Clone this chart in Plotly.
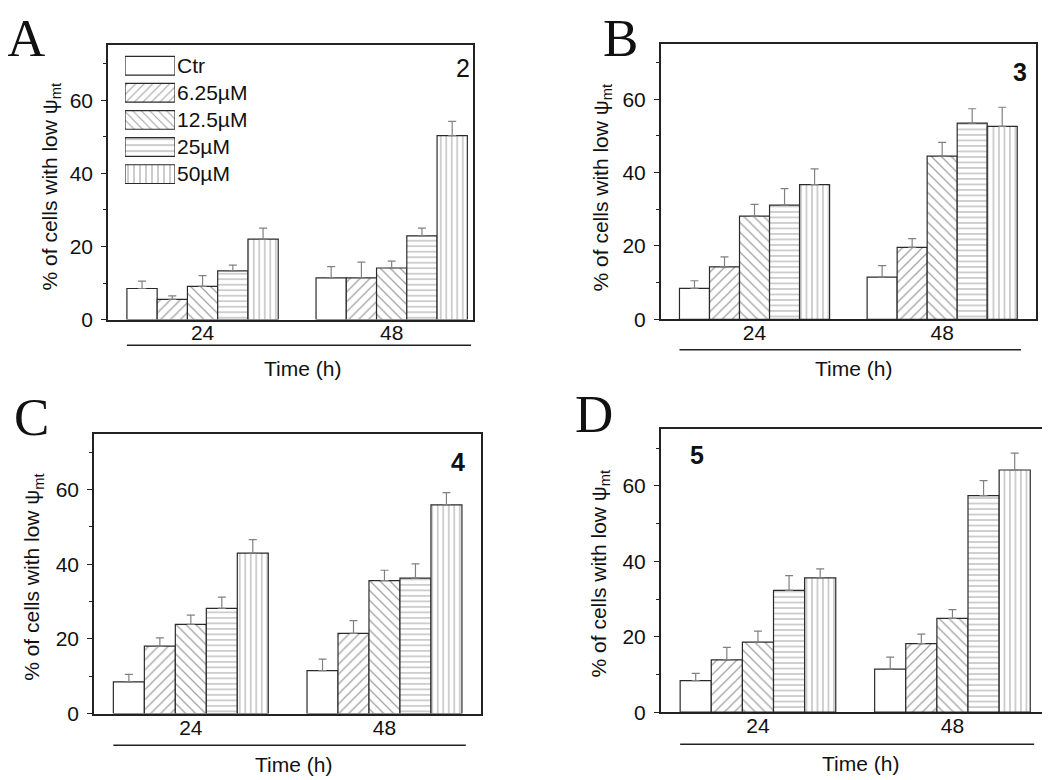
import plotly.graph_objects as go

W, H = 1050, 780

# ---------------- data ----------------
series = ["Ctr", "6.25µM", "12.5µM", "25µM", "50µM"]
patterns = ["", "/", "\\", "-", "|"]
times = ["24", "48"]

A_mean_24 = [8.5, 5.5, 9.1, 13.3, 22.0]
A_err_24 = [2.0, 1.0, 2.9, 1.6, 3.0]
A_mean_48 = [11.4, 11.4, 14.1, 22.9, 50.3]
A_err_48 = [3.1, 4.3, 1.9, 2.1, 3.9]

B_mean_24 = [8.4, 14.3, 28.1, 31.1, 36.7]
B_err_24 = [2.1, 2.7, 3.2, 4.5, 4.3]
B_mean_48 = [11.5, 19.6, 44.5, 53.5, 52.6]
B_err_48 = [3.1, 2.4, 3.7, 3.9, 5.2]

C_mean_24 = [8.5, 18.1, 23.9, 28.2, 43.0]
C_err_24 = [2.0, 2.2, 2.5, 3.0, 3.6]
C_mean_48 = [11.5, 21.5, 35.6, 36.3, 55.9]
C_err_48 = [3.1, 3.4, 2.8, 3.8, 3.3]

D_mean_24 = [8.4, 13.9, 18.6, 32.3, 35.6]
D_err_24 = [1.9, 3.3, 2.9, 3.9, 2.4]
D_mean_48 = [11.4, 18.2, 24.9, 57.4, 64.2]
D_err_48 = [3.2, 2.5, 2.3, 4.0, 4.5]

compound_labels = ["2", "3", "4", "5"]
panel_letters = ["A", "B", "C", "D"]

# ---------------- layout helpers ----------------
SANS = "Liberation Sans, Arial, sans-serif"
SERIF = "Liberation Serif, Times New Roman, serif"
INK = "#222222"


def px_x(x):
    return x / W


def px_y(y):
    return 1 - y / H


panels = [
    dict(mean24=A_mean_24, err24=A_err_24, mean48=A_mean_48, err48=A_err_48,
         dom_x=(100, 465), dom_y=(38, 316), xr=[-0.5, 1.43], line_y=342,
         time_xy=(294, 366), ytitle_xy=(43, 181), letter_xy=(18, 0), letter_anchor="top",
         num_xy=(455, 61), num_bold=False),
    dict(mean24=B_mean_24, err24=B_err_24, mean48=B_mean_48, err48=B_err_48,
         dom_x=(652.7, 1028), dom_y=(36.7, 315.7), xr=[-0.5, 1.5], line_y=346.7,
         time_xy=(845, 366), ytitle_xy=(594, 182), letter_xy=(612, 0), letter_anchor="top",
         num_xy=(1011.5, 64.5), num_bold=True),
    dict(mean24=C_mean_24, err24=C_err_24, mean48=C_mean_48, err48=C_err_48,
         dom_x=(86, 473.3), dom_y=(431.7, 715.7), xr=[-0.5, 1.5], line_y=747.7,
         time_xy=(285, 767), ytitle_xy=(25, 577), letter_xy=(23, 415), letter_anchor="middle",
         num_xy=(450, 460), num_bold=True),
    dict(mean24=D_mean_24, err24=D_err_24, mean48=D_mean_48, err48=D_err_48,
         dom_x=(652.7, 1041.7), dom_y=(427.3, 714.3), xr=[-0.5, 1.5], line_y=746.7,
         time_xy=(852, 766), ytitle_xy=(592, 573.5), letter_xy=(586, 412), letter_anchor="middle",
         num_xy=(689, 453), num_bold=True),
]

fig = go.Figure()
annotations = []
shapes = []
group_x = [0, 1]
bargap = 0.2
half_group = (1 - bargap) / 2

for p_i, p in enumerate(panels):
    k = "" if p_i == 0 else str(p_i + 1)
    for s_i, name in enumerate(series):
        yv = [p["mean24"][s_i], p["mean48"][s_i]]
        ev = [p["err24"][s_i], p["err48"][s_i]]
        fig.add_trace(go.Bar(
            x=group_x, y=yv, name=name, showlegend=False,
            xaxis="x" + k, yaxis="y" + k,
            marker=dict(color="white",
                        line=dict(color="#2a2a2a", width=1.2),
                        pattern=dict(shape=patterns[s_i], fgcolor="#444444",
                                     bgcolor="white",
                                     size=7 if s_i in (1, 2) else 5.5,
                                     solidity=0.18)),
            error_y=dict(type="data", array=ev, arrayminus=[0, 0],
                         symmetric=False, color="#808080", thickness=1.2,
                         width=4),
        ))
    xa = dict(domain=[px_x(p["dom_x"][0]), px_x(p["dom_x"][1])],
              range=p["xr"], anchor="y" + k,
              tickvals=group_x, ticktext=times,
              ticks="", ticklabelstandoff=-6,
              showline=True, mirror=True, linecolor=INK, linewidth=1.5,
              showgrid=False, zeroline=False,
              tickfont=dict(family=SANS, size=21, color="#111"))
    ya = dict(domain=[px_y(p["dom_y"][1]), px_y(p["dom_y"][0])],
              range=[0, 75], anchor="x" + k,
              tickvals=[0, 20, 40, 60],
              ticks="outside", ticklen=5, tickwidth=1.2, tickcolor=INK,
              ticklabelstandoff=4,
              minor=dict(tickvals=[10, 30, 50, 70], ticks="outside", ticklen=3,
                         tickcolor=INK, tickwidth=1.2),
              showline=True, mirror=True, linecolor=INK, linewidth=1.5,
              showgrid=False, zeroline=False,
              tickfont=dict(family=SANS, size=21, color="#111"))
    fig.update_layout(**{"xaxis" + k: xa, "yaxis" + k: ya})

    # underline beneath time labels
    shapes.append(dict(type="line", xref="x" + k, yref="paper",
                       x0=group_x[0] - half_group, x1=group_x[-1] + half_group + 0.02,
                       y0=px_y(p["line_y"]), y1=px_y(p["line_y"]),
                       line=dict(color=INK, width=1.5)))
    annotations.append(dict(text="Time (h)", xref="paper", yref="paper",
                            x=px_x(p["time_xy"][0]), y=px_y(p["time_xy"][1]),
                            xanchor="center", yanchor="middle", showarrow=False,
                            font=dict(family=SANS, size=21, color="#111")))
    annotations.append(dict(text="% of cells with low ψ<sub>mt</sub>",
                            xref="paper", yref="paper",
                            x=px_x(p["ytitle_xy"][0]), y=px_y(p["ytitle_xy"][1]),
                            xanchor="center", yanchor="middle", textangle=-90,
                            showarrow=False,
                            font=dict(family=SANS, size=21, color="#111")))
    annotations.append(dict(text=panel_letters[p_i], xref="paper", yref="paper",
                            x=px_x(p["letter_xy"][0]), y=px_y(p["letter_xy"][1]),
                            xanchor="center", yanchor=p["letter_anchor"],
                            showarrow=False, borderpad=0,
                            font=dict(family=SERIF, size=53, color="#111")))
    num_text = compound_labels[p_i]
    if p["num_bold"]:
        num_text = "<b>" + num_text + "</b>"
    annotations.append(dict(text=num_text, xref="paper", yref="paper",
                            x=px_x(p["num_xy"][0]), y=px_y(p["num_xy"][1]),
                            xanchor="center", yanchor="middle", showarrow=False,
                            font=dict(family=SANS, size=25, color="#111")))

# ---------------- custom legend inside panel A ----------------
fig.add_trace(go.Bar(
    y=series, x=[1] * len(series), orientation="h", width=0.69,
    showlegend=False, xaxis="x5", yaxis="y5", hoverinfo="skip",
    marker=dict(color="white", line=dict(color="#2a2a2a", width=1.2),
                pattern=dict(shape=patterns, fgcolor="#444444", bgcolor="white",
                             size=6, solidity=0.18)),
))
fig.update_layout(
    xaxis5=dict(domain=[px_x(117), px_x(167)], range=[0, 1], anchor="y5",
                visible=False, fixedrange=True),
    yaxis5=dict(domain=[px_y(182.25), px_y(44.75)], anchor="x5", side="right",
                categoryorder="array", categoryarray=series, autorange="reversed",
                showline=False, showgrid=False, zeroline=False, ticks="",
                ticklabelstandoff=1,
                tickfont=dict(family=SANS, size=21, color="#111")),
)

fig.update_layout(
    width=W, height=H,
    margin=dict(l=0, r=0, t=0, b=0),
    paper_bgcolor="white", plot_bgcolor="white",
    barmode="group", bargap=bargap, bargroupgap=0,
    showlegend=False,
    annotations=annotations, shapes=shapes,
)

fig.write_html("out.html")
